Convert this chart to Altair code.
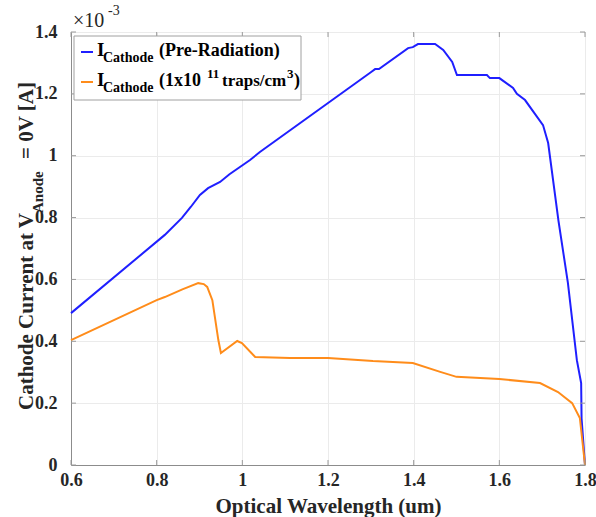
import altair as alt
import pandas as pd

# ---- data (current in units of 1e-3 A) ----
wl_pre = [0.6, 0.819, 0.859, 0.88, 0.901, 0.92, 0.948, 0.97, 1.018, 1.041, 1.30, 1.31, 1.319,
          1.387, 1.398, 1.41, 1.45, 1.469, 1.49, 1.501, 1.571, 1.578, 1.6, 1.632, 1.641,
          1.66, 1.702, 1.714, 1.738, 1.76, 1.781, 1.791, 1.792, 1.8]
cur_pre = [0.491, 0.744, 0.799, 0.835, 0.873, 0.895, 0.915, 0.94, 0.986, 1.012, 1.27, 1.28, 1.28,
           1.348, 1.351, 1.361, 1.361, 1.342, 1.303, 1.261, 1.261, 1.251, 1.251, 1.219, 1.2,
           1.18, 1.099, 1.041, 0.79, 0.59, 0.339, 0.265, 0.15, 0.0]

wl_rad = [0.6, 0.8, 0.819, 0.86, 0.897, 0.91, 0.918, 0.93, 0.944, 0.95, 0.988, 0.999, 1.03,
          1.111, 1.2, 1.305, 1.398, 1.462, 1.5, 1.6, 1.695, 1.737, 1.77, 1.788, 1.8]
cur_rad = [0.404, 0.533, 0.543, 0.568, 0.588, 0.585, 0.576, 0.533, 0.404, 0.362, 0.401, 0.394, 0.349,
           0.346, 0.346, 0.336, 0.330, 0.301, 0.285, 0.278, 0.265, 0.236, 0.2, 0.152, 0.0]

series_names = ["Pre-Radiation", "1x10^11 traps/cm^3"]
series_colors = ["#1f1fff", "#ff8c1a"]

x_ticks = [0.6, 0.8, 1.0, 1.2, 1.4, 1.6, 1.8]
y_ticks = [0, 0.2, 0.4, 0.6, 0.8, 1.0, 1.2, 1.4]

df = pd.concat([
    pd.DataFrame({"wavelength": wl_pre, "current": cur_pre, "series": series_names[0]}),
    pd.DataFrame({"wavelength": wl_rad, "current": cur_rad, "series": series_names[1]}),
])

FONT = "Liberation Serif"
W, H = 514, 433
TXT = "#262626"
GRAY = "#8c8c8c"

xscale = alt.Scale(domain=[0.6, 1.8], nice=False, zero=False)
yscale = alt.Scale(domain=[0, 1.4], nice=False, zero=False)

lines = alt.Chart(df).mark_line(strokeWidth=2).encode(
    x=alt.X("wavelength:Q", scale=xscale,
            axis=alt.Axis(values=x_ticks, title="Optical Wavelength (um)",
                          labelExpr="format(datum.value, '~g')",
                          labelFont=FONT, labelFontSize=18, labelFontWeight="bold", labelColor=TXT,
                          titleFont=FONT, titleFontSize=21, titleFontWeight="bold", titleColor=TXT,
                          titlePadding=6, labelPadding=6, tickSize=0, domainColor=GRAY,
                          grid=True, gridColor="#ebebeb", labelFlush=False)),
    y=alt.Y("current:Q", scale=yscale,
            axis=alt.Axis(values=y_ticks, title=None,
                          labelExpr="format(datum.value, '~g')",
                          labelFont=FONT, labelFontSize=18, labelFontWeight="bold", labelColor=TXT,
                          labelPadding=14, tickSize=0, domainColor=GRAY,
                          grid=True, gridColor="#ebebeb", labelFlush=False)),
    color=alt.Color("series:N", scale=alt.Scale(domain=series_names, range=series_colors), legend=None),
)

xt = pd.DataFrame({"wavelength": x_ticks})
yt = pd.DataFrame({"current": y_ticks})
tick_color = "#9a9a9a"
ticks = [
    alt.Chart(xt).mark_rule(color=tick_color).encode(x=alt.X("wavelength:Q", scale=xscale), y=alt.value(H), y2=alt.value(H - 5)),
    alt.Chart(xt).mark_rule(color=tick_color).encode(x=alt.X("wavelength:Q", scale=xscale), y=alt.value(0), y2=alt.value(5)),
    alt.Chart(yt).mark_rule(color=tick_color).encode(y=alt.Y("current:Q", scale=yscale), x=alt.value(0), x2=alt.value(5)),
    alt.Chart(yt).mark_rule(color=tick_color).encode(y=alt.Y("current:Q", scale=yscale), x=alt.value(W), x2=alt.value(W - 5)),
]

one = pd.DataFrame({"a": [0]})

def txt(s, x, y, size, weight="bold", angle=0, align="left", color="black"):
    return alt.Chart(one).mark_text(
        text=s, font=FONT, fontSize=size, fontWeight=weight, angle=angle,
        align=align, baseline="alphabetic", color=color
    ).encode(x=alt.value(x), y=alt.value(y))

# legend box
legend_box = alt.Chart(one).mark_rect(fill="white", stroke="#a0a0a0", strokeWidth=1).encode(
    x=alt.value(3), x2=alt.value(230), y=alt.value(4), y2=alt.value(68))
leg_line1 = alt.Chart(one).mark_rule(color=series_colors[0], strokeWidth=2).encode(
    x=alt.value(10), x2=alt.value(22), y=alt.value(20))
leg_line2 = alt.Chart(one).mark_rule(color=series_colors[1], strokeWidth=2).encode(
    x=alt.value(10), x2=alt.value(22), y=alt.value(50))

texts = [
    # legend row 1
    txt("I", 26, 24, 19), txt("Cathode", 32, 30, 14), txt("(Pre-Radiation)", 88, 24, 18),
    # legend row 2
    txt("I", 26, 54, 19), txt("Cathode", 32, 60, 14), txt("(1x10", 88, 54, 18),
    txt("11", 136, 46, 13), txt("traps/cm", 151, 54, 17), txt("3", 216, 46, 13), txt(")", 223, 54, 18),
    # exponent
    txt("\u00d710", 2, -5, 20, weight="normal", color=TXT), txt("-3", 37, -17, 14, weight="normal", color=TXT),
    # y title
    txt("Cathode Current at V", -38, 181, 21, angle=270, align="right", color=TXT),
    txt("Anode", -28, 181, 15, angle=270, align="left", color=TXT),
    txt("= 0V [A]", -38, 127, 21, angle=270, align="left", color=TXT),
]

chart = alt.layer(lines, *ticks, legend_box, leg_line1, leg_line2, *texts).properties(
    width=W, height=H,
    autosize=alt.AutoSizeParams(type="none"),
    padding={"left": 71, "top": 32, "right": 11, "bottom": 52},
).configure_view(stroke=GRAY, strokeWidth=1).configure(background="white")

chart.save("out.html", embed_options={"renderer": "svg", "actions": False})
